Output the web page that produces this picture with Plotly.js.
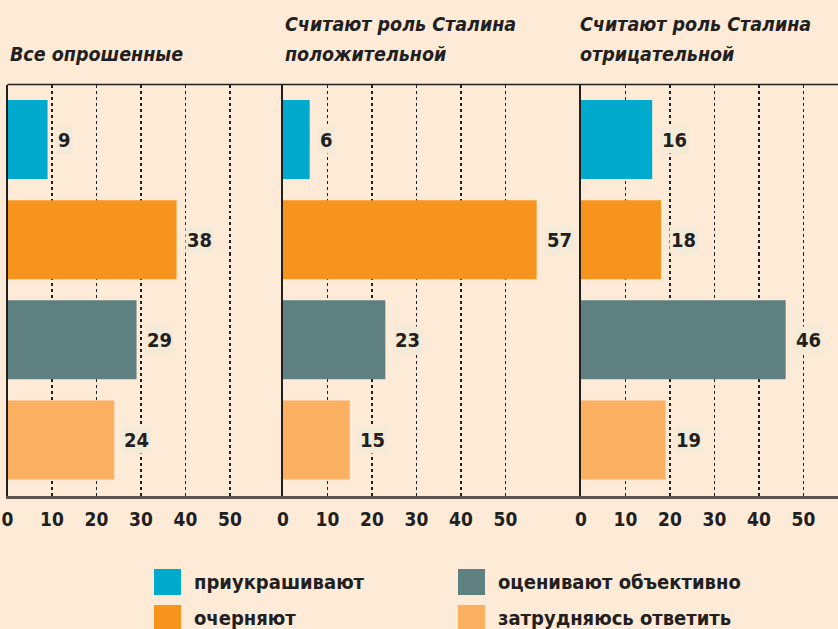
<!DOCTYPE html>
<html>
<head>
<meta charset="utf-8">
<script src="https://cdn.plot.ly/plotly-3.0.1.min.js"></script>
<style>html,body{margin:0;padding:0;background:#fdebd8;}#chart{width:838px;height:629px;}</style>
</head>
<body>
<div id="chart"></div>
<script>
// ---- data ----
const categories = ['приукрашивают', 'очерняют', 'оценивают объективно', 'затрудняюсь ответить'];
const groupTitles = ['Все опрошенные', 'Считают роль Сталина<br>положительной', 'Считают роль Сталина<br>отрицательной'];
const valuesAll = [9, 38, 29, 24];
const valuesPositive = [6, 57, 23, 15];
const valuesNegative = [16, 18, 46, 19];
const seriesColors = ['#00aacd', '#f7941e', '#5e8080', '#fbb062'];
const tickValues = [0, 10, 20, 30, 40, 50];
const tickLabels = ['0', '10', '20', '30', '40', '50'];

// ---- layout helpers ----
const W = 838, H = 629;
const FONT = '"DejaVu Sans Condensed", "Liberation Sans Narrow", "Arial Narrow", sans-serif';
const INK = '#231f20';
const px = v => v / W;
const py = v => 1 - v / H;
const pxPerUnit = 4.45;
const panelLeft = [7.5, 283, 581];
const panelRight = [283, 581, 838];
const allValues = [valuesAll, valuesPositive, valuesNegative];

const traces = [];
const layout = {
  width: W, height: H,
  margin: {l: 0, r: 0, t: 0, b: 0},
  paper_bgcolor: '#fdebd8',
  plot_bgcolor: 'rgba(0,0,0,0)',
  showlegend: false,
  font: {family: FONT, color: INK},
  annotations: [],
  shapes: []
};

const yTop = py(84.5), yBot = py(496);

allValues.forEach((vals, i) => {
  const sfx = i === 0 ? '' : String(i + 1);
  traces.push({
    type: 'bar', orientation: 'h',
    x: vals, y: categories,
    xaxis: 'x' + sfx, yaxis: 'y' + sfx,
    marker: {color: seriesColors, line: {width: 0}},
    hoverinfo: 'x+y',
    width: 0.79
  });
  const range = (panelRight[i] - panelLeft[i]) / pxPerUnit;
  layout['xaxis' + sfx] = {
    domain: [px(panelLeft[i]), px(panelRight[i])],
    anchor: 'y' + sfx,
    range: [0, range],
    tickvals: tickValues, ticktext: tickLabels,
    ticks: '', ticklabelstandoff: 5, ticklabeloverflow: 'allow',
    tickfont: {family: FONT, size: 19, color: INK, weight: 'bold'},
    showgrid: true, griddash: 'dot', gridcolor: INK, gridwidth: 1.3,
    showline: true, linecolor: '#5b534e', linewidth: 2.5,
    zeroline: false, fixedrange: true
  };
  layout['yaxis' + sfx] = {
    domain: [yBot, yTop],
    anchor: 'x' + sfx,
    autorange: false,
    range: [3.56, -0.55],
    type: 'category',
    showticklabels: false, ticks: '',
    showgrid: false, zeroline: false,
    showline: true, linecolor: INK, linewidth: 1.6,
    fixedrange: true
  };
  // value labels
  vals.forEach((v, k) => {
    layout.annotations.push({
      xref: 'x' + sfx, yref: 'y' + sfx,
      x: v, y: categories[k],
      text: String(v),
      xanchor: 'left', yanchor: 'middle',
      xshift: 8, showarrow: false,
      bgcolor: '#f4ead8', borderpad: 1,
      font: {family: FONT, size: 20, color: INK, weight: 'bold'}
    });
  });
  // panel titles (each line placed separately)
  const lines = groupTitles[i].split('<br>');
  lines.forEach((ln, j) => {
    const fromBottom = lines.length - 1 - j;
    layout.annotations.push({
      xref: 'paper', yref: 'paper',
      x: px(panelLeft[i] - (i === 2 ? 3 : 0)), y: py(55 - fromBottom * 30),
      xanchor: 'left', yanchor: 'middle', align: 'left',
      text: '<i>' + ln + '</i>',
      showarrow: false,
      font: {family: FONT, size: 19.5, color: INK, weight: 'bold'}
    });
  });
});

// top frame line
layout.shapes.push({
  type: 'line', xref: 'paper', yref: 'paper',
  x0: px(7.5), x1: 1, y0: yTop, y1: yTop,
  line: {color: INK, width: 1.6}
});

// legend (drawn from the series arrays)
const legendPos = [[154, 582], [154, 618], [458, 582], [458, 618]];
categories.forEach((name, k) => {
  const [lx, ly] = legendPos[k];
  layout.shapes.push({
    type: 'rect', xref: 'paper', yref: 'paper',
    x0: px(lx), x1: px(lx + 27), y0: py(ly - 13), y1: py(ly + 13),
    fillcolor: seriesColors[k], line: {width: 0}
  });
  layout.annotations.push({
    xref: 'paper', yref: 'paper',
    x: px(lx + 38), y: py(ly),
    xanchor: 'left', yanchor: 'middle',
    text: name, showarrow: false,
    font: {family: FONT, size: 20, color: INK, weight: 'bold'}
  });
});

Plotly.newPlot('chart', traces, layout, {displayModeBar: false, staticPlot: true});
</script>
</body>
</html>
